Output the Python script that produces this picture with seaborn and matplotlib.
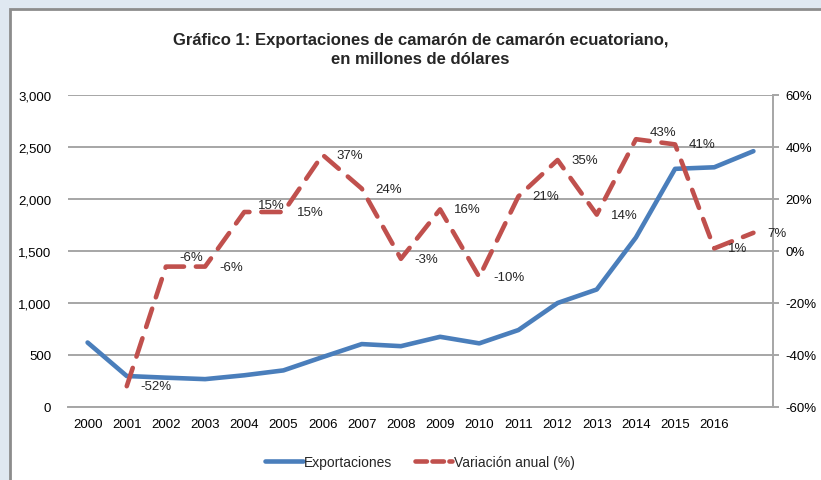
import numpy as np
import pandas as pd
import matplotlib
matplotlib.use("Agg")
import matplotlib.pyplot as plt
import seaborn as sns
from matplotlib.patches import Rectangle
from matplotlib.lines import Line2D
from matplotlib.ticker import FuncFormatter

# Datos
anios = [str(a) for a in range(2000, 2018)]
etiquetas_x = [str(a) for a in range(2000, 2017)] + [""]
exportaciones = [620, 298, 282, 268, 305, 352, 480, 605, 585, 675, 612, 740,
                 1000, 1130, 1630, 2290, 2305, 2460]
variacion = [np.nan, -52, -6, -6, 15, 15, 37, 24, -3, 16, -10, 21,
             35, 14, 43, 41, 1, 7]

azul = "#4a7ebb"
rojo = "#c0504d"
gris = "#a6a6a6"

sns.set_style("white")
plt.rcParams["font.family"] = ["Liberation Sans", "DejaVu Sans"]

df = pd.DataFrame({"pos": range(len(anios)), "exp": exportaciones, "var": variacion})

fig = plt.figure(figsize=(8.21, 4.81), dpi=100, facecolor="#dfe8f1")
# recuadro blanco
fig.patches.append(Rectangle((10 / 821, -0.05), 1.0, 1 - 10 / 481 + 0.05,
                             transform=fig.transFigure, facecolor="white",
                             edgecolor="#8c8c8c", linewidth=2, zorder=-5))

ax = fig.add_axes([68 / 821, 1 - 408 / 481, (773 - 68) / 821, (408 - 96) / 481])
ax.set_facecolor("none")
ax2 = ax.twinx()
ax2.set_facecolor("none")

sns.lineplot(data=df, x="pos", y="exp", ax=ax, color=azul, linewidth=3.3,
             solid_capstyle="round", legend=False)
sns.lineplot(data=df, x="pos", y="var", ax=ax2, color=rojo, linewidth=3.3,
             legend=False)
linea_roja = ax2.get_lines()[0]
linea_roja.set_dashes([4.2, 2.6])
linea_roja.set_dash_capstyle("round")

ax.set_xlim(-0.5, len(anios) - 0.5)
ax.set_ylim(0, 3000)
ax.set_yticks(range(0, 3001, 500))
ax.yaxis.set_major_formatter(FuncFormatter(lambda v, p: f"{int(v):,}"))
ax.set_xticks(range(len(anios)))
ax.set_xticklabels(etiquetas_x)
ax.grid(axis="y", color=gris, linewidth=1.4)
ax.set_axisbelow(True)
ax.set_xlabel("")
ax.set_ylabel("")
ax.tick_params(axis="both", length=0, labelsize=9.5, colors="black")
ax.tick_params(axis="y", pad=12)
ax.tick_params(axis="x", pad=8)

ax2.set_ylim(-60, 60)
ax2.set_yticks(range(-60, 61, 20))
ax2.yaxis.set_major_formatter(FuncFormatter(lambda v, p: f"{int(v)}%"))
ax2.set_ylabel("")
ax2.tick_params(axis="y", length=4, width=1.4, color=gris, labelsize=9.5,
                labelcolor="black", pad=5)

for a in (ax, ax2):
    for s in a.spines.values():
        s.set_visible(False)
ax2.spines["right"].set_visible(True)
ax2.spines["right"].set_color(gris)
ax2.spines["right"].set_linewidth(1.4)
ax.spines["bottom"].set_visible(True)
ax.spines["bottom"].set_color(gris)
ax.spines["bottom"].set_linewidth(1.4)

# etiquetas de datos
desplaz_y = {2: 7, 4: 5, 14: 5}
for i, v in enumerate(variacion):
    if np.isnan(v):
        continue
    ax2.annotate(f"{int(v)}%", (i, v), xytext=(10, desplaz_y.get(i, 0)),
                 textcoords="offset points", ha="left", va="center",
                 fontsize=9.5, zorder=5)

fig.text(0.512, 1 - 40 / 481, "Gráfico 1: Exportaciones de camarón de camarón ecuatoriano,",
         ha="center", va="center", fontsize=12, fontweight="bold")
fig.text(0.512, 1 - 60 / 481, "en millones de dólares",
         ha="center", va="center", fontsize=12, fontweight="bold")

handles = [Line2D([], [], color=azul, linewidth=3.3, solid_capstyle="round"),
           Line2D([], [], color=rojo, linewidth=3.3, dashes=[2.5, 1.2],
                  dash_capstyle="round")]
fig.legend(handles, ["Exportaciones", "Variación anual (%)"], loc="center",
           bbox_to_anchor=(420 / 821, 1 - 463 / 481), ncol=2, frameon=False,
           fontsize=10, handlelength=2.7, handletextpad=0.1, columnspacing=1.6)

fig.savefig("out.png", dpi=100, facecolor=fig.get_facecolor())
